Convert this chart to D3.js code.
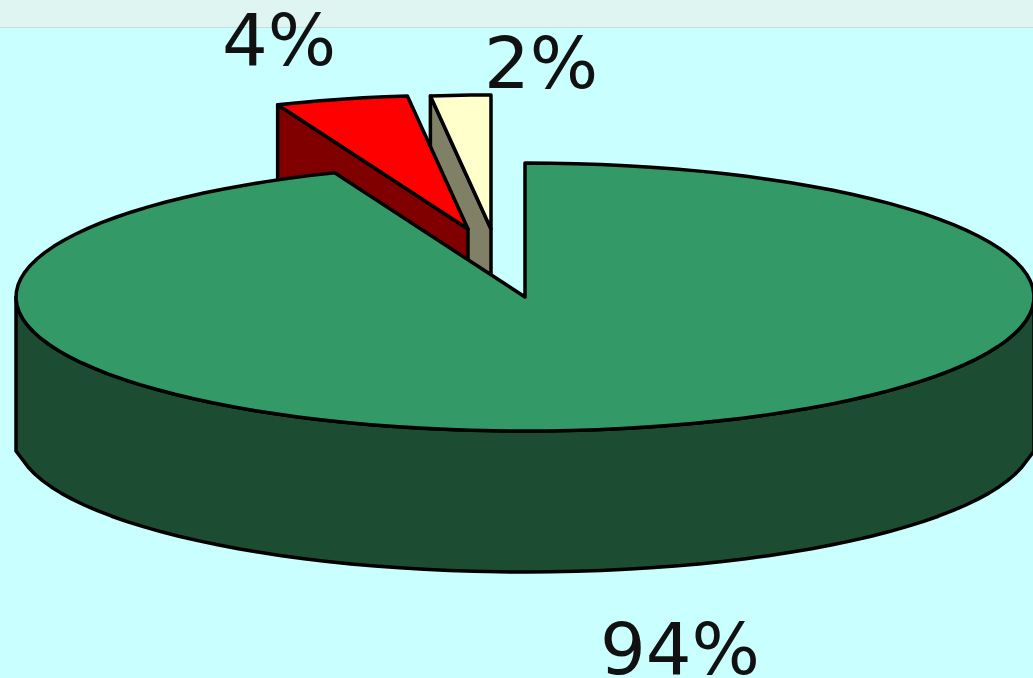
<!DOCTYPE html>
<html>
<head>
<meta charset="utf-8">
<script src="https://cdn.jsdelivr.net/npm/d3@7"></script>
<style>
  html, body { margin: 0; padding: 0; background: #c9ffff; overflow: hidden; }
  svg { display: block; }
</style>
</head>
<body>
<div id="chart"></div>
<script>
const labels = ["94%", "4%", "2%"];
const values = [93.9, 4.2, 1.9];

const width = 1033;
const height = 678;

// Colours per slice: top face, side wall
const topColors = ["#339966", "#ff0000", "#ffffcc"];
const sideColors = ["#1c4d33", "#800000", "#808066"];

// How far each slice is pulled out of the pie, and where its label goes
const explode = [[0, 0], [-57, -68], [-34, -68]];
const labelPos = [[600, 674], [222, 65], [484, 88]];

const cx = 525, cy = 297;
const rx = 509, ry = 134;
const depth = 141;
const wallEdge = 154; // the outer wall runs a bit lower at its far left and right

const svg = d3.select("#chart").append("svg").attr("width", width).attr("height", height);

// Strip along the top of the slide
svg.append("rect").attr("width", width).attr("height", 27).attr("fill", "#dff5f1");
svg.append("line").attr("x1", 0).attr("x2", width).attr("y1", 27.5).attr("y2", 27.5).attr("stroke", "#c6dcd8");

// Pie layout, clockwise from 12 o'clock
const slices = d3.pie().sort(null)(values);

const xScale = d3.scaleLinear().domain([-1, 1]).range([cx - rx, cx + rx]);
const yScale = d3.scaleLinear().domain([-1, 1]).range([cy - ry, cy + ry]);

// A point on the rim of the tilted pie for an angle
function rim(a, off, drop) {
    return [xScale(Math.sin(a)) + off[0], yScale(-Math.cos(a)) + off[1] + drop];
}
function rimRange(a0, a1, off, drop) {
    const n = Math.max(2, Math.ceil(Math.abs(a1 - a0) / 0.05));
    return d3.range(n + 1).map(i => rim(a0 + (a1 - a0) * i / n, off, drop));
}

const line = d3.line().curve(d3.curveLinear);
const apex = (off, drop) => [cx + off[0], cy + off[1] + drop];

function drawPoly(points, fill) {
    svg.append("path")
        .attr("d", line(points) + "Z")
        .attr("fill", fill)
        .attr("stroke", "#000")
        .attr("stroke-width", 3.5)
        .attr("stroke-linejoin", "round");
}

// Small slices first, the big one goes over them: cream, red, green
[2, 1].forEach(i => {
    const s = slices[i], off = explode[i];
    // wall along the slice's left cut
    drawPoly([rim(s.startAngle, off, 0), apex(off, 0), apex(off, depth), rim(s.startAngle, off, depth)], sideColors[i]);
    drawPoly([apex(off, 0)].concat(rimRange(s.startAngle, s.endAngle, off, 0)), topColors[i]);
});

// Green slice: front wall then top face
const g = slices[0];
const noOff = explode[0];
const front = rimRange(Math.PI / 2, 3 * Math.PI / 2, noOff, 0);
const frontLow = [rim(3 * Math.PI / 2, noOff, wallEdge)]
    .concat(rimRange(260 * Math.PI / 180, 100 * Math.PI / 180, noOff, depth))
    .concat([rim(Math.PI / 2, noOff, wallEdge)]);
drawPoly(front.concat(frontLow), sideColors[0]);
drawPoly([apex(noOff, 0)].concat(rimRange(g.startAngle, g.endAngle, noOff, 0)), topColors[0]);

// Percent labels
svg.selectAll("text.pct").data(labels).enter().append("text")
    .attr("class", "pct")
    .attr("x", (d, i) => labelPos[i][0])
    .attr("y", (d, i) => labelPos[i][1])
    .attr("font-family", "DejaVu Sans")
    .attr("font-size", 72)
    .attr("fill", "#111")
    .text(d => d);
</script>
</body>
</html>
